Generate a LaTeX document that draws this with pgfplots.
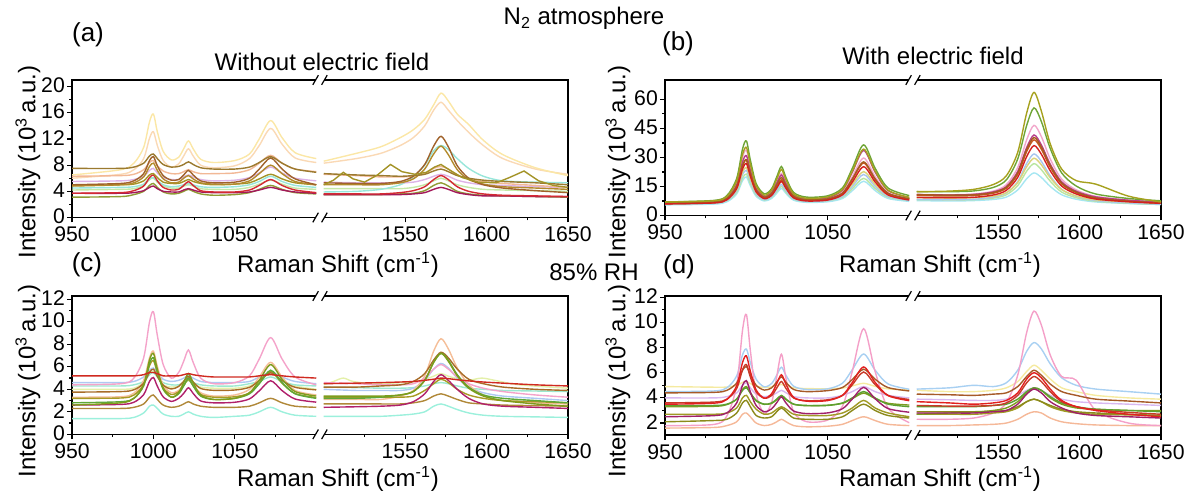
\documentclass[border=0pt]{standalone}
\usepackage{fontspec}
\setmainfont{Liberation Sans}
\usepackage{pgfplots}
\usepackage{pgfplotstable}
\pgfplotsset{compat=1.18}

% ---- colours
\definecolor{a1}{HTML}{FBE7A6}\definecolor{a2}{HTML}{FAD9B5}\definecolor{a3}{HTML}{9B7A2F}
\definecolor{a4}{HTML}{F2B896}\definecolor{a5}{HTML}{A0622B}\definecolor{a6}{HTML}{B38B2C}
\definecolor{a7}{HTML}{A39327}\definecolor{a8}{HTML}{DDB3E6}\definecolor{a9}{HTML}{C5E8A6}
\definecolor{a10}{HTML}{98E6DA}\definecolor{a11}{HTML}{D42A33}\definecolor{a12}{HTML}{A3195A}
\definecolor{a13}{HTML}{8F9C35}
\definecolor{b1}{HTML}{A6A11E}\definecolor{b2}{HTML}{6EA536}\definecolor{b3}{HTML}{B83D8A}
\definecolor{b4}{HTML}{F2A7CB}\definecolor{b5}{HTML}{A75B20}\definecolor{b6}{HTML}{D42020}
\definecolor{b7}{HTML}{C9541E}\definecolor{b8}{HTML}{A8C6F0}\definecolor{b9}{HTML}{DCD37A}
\definecolor{b10}{HTML}{B9E6A0}\definecolor{b11}{HTML}{A6E6F2}
\definecolor{c1}{HTML}{D02A20}\definecolor{c2}{HTML}{F4A3CA}\definecolor{c3}{HTML}{AEC9F2}
\definecolor{c4}{HTML}{9CE8CF}\definecolor{c5}{HTML}{A86C28}\definecolor{c6}{HTML}{7E9C1C}
\definecolor{c7}{HTML}{B0206A}\definecolor{c8}{HTML}{A89A24}\definecolor{c9}{HTML}{B08838}
\definecolor{c10}{HTML}{9CF0DC}\definecolor{c11}{HTML}{F5BE98}\definecolor{c12}{HTML}{5EA838}
\definecolor{c13}{HTML}{E4F0AA}
\definecolor{d1}{HTML}{F5EAA0}\definecolor{d2}{HTML}{A65A28}\definecolor{d3}{HTML}{E22020}
\definecolor{d4}{HTML}{C83A28}\definecolor{d5}{HTML}{A8D0F2}\definecolor{d6}{HTML}{F4A0C8}
\definecolor{d7}{HTML}{A0206A}\definecolor{d8}{HTML}{7C9C20}\definecolor{d9}{HTML}{5CA030}
\definecolor{d10}{HTML}{A09A24}\definecolor{d11}{HTML}{8C8A1C}\definecolor{d12}{HTML}{F5B898}
\definecolor{d13}{HTML}{D8B8F0}

% ---- data (one row per spectrum; transposed below)
\pgfplotstableread{
name 950 980 988 994 997.6 1000 1002.4 1006 1011 1015.5 1018.6 1021.5 1024.4 1029 1037 1050 1059 1065 1072 1079 1087 1100
s1 6.5 7.3 8.3 10.7 14.6 15.8 13.1 10.1 8.8 9.2 10.5 11.7 10.5 8.9 8.4 8.7 9.7 12.0 14.8 12.2 9.9 9.0
s2 6.0 6.6 7.3 9.0 12.1 13.1 11.0 8.7 7.7 8.2 9.4 10.5 9.4 8.0 7.6 7.9 9.0 11.0 13.6 11.2 9.1 8.4
s3 7.5 7.5 7.7 8.3 9.4 9.7 9.0 8.1 7.7 7.8 8.1 8.5 8.1 7.6 7.4 7.4 7.7 8.4 9.3 8.3 7.4 6.9
s4 6.3 6.4 6.6 7.3 8.4 8.7 7.9 7.1 6.7 6.7 7.0 7.3 7.0 6.7 6.7 6.8 7.3 8.3 9.5 8.3 7.4 7.0
s5 5.0 5.2 5.6 6.7 8.7 9.3 7.9 6.4 5.7 5.8 6.5 7.2 6.5 5.6 5.3 5.4 6.0 7.4 9.1 7.4 5.9 5.0
s6 4.8 5.0 5.3 6.2 7.8 8.3 7.2 5.9 5.3 5.4 6.0 6.4 5.9 5.3 5.1 5.1 5.6 6.7 8.0 6.7 5.5 5.0
s7 4.9 5.0 5.1 5.6 6.5 6.7 6.1 5.4 5.2 5.2 5.5 5.8 5.5 5.2 5.0 5.1 5.3 5.9 6.6 5.9 5.3 5.0
s8 5.5 5.6 5.8 6.3 7.2 7.5 6.8 6.1 5.8 5.8 6.2 6.5 6.2 5.8 5.6 5.7 6.1 6.8 7.7 6.8 6.0 5.6
s9 4.2 4.3 4.4 4.9 5.8 6.0 5.4 4.8 4.5 4.5 4.8 5.0 4.8 4.4 4.3 4.3 4.6 5.1 5.7 5.1 4.5 4.3
s10 4.5 4.6 4.7 5.1 5.9 6.1 5.6 5.0 4.7 4.8 5.0 5.2 5.0 4.7 4.6 4.7 5.0 5.5 6.3 5.5 4.9 4.6
s11 3.7 3.8 4.1 4.8 6.1 6.5 5.6 4.6 4.2 4.3 4.9 5.5 4.9 4.1 3.9 3.9 4.2 4.9 5.8 4.9 4.2 3.8
s12 3.7 3.7 3.8 4.1 4.6 4.8 4.4 4.0 3.9 3.9 4.2 4.4 4.2 3.9 3.8 3.8 3.9 4.2 4.6 4.2 3.9 3.7
s13 3.1 3.2 3.5 4.0 4.9 5.2 4.6 3.9 3.6 3.7 4.0 4.3 4.0 3.6 3.4 3.5 3.8 4.3 4.9 4.3 3.8 3.6
}\rawAL
\pgfplotstableread{
name 1500 1520 1535 1547 1555 1562 1567.5 1572 1576.5 1582 1589 1598 1610 1630 1650
s1 8.6 9.8 10.8 12.2 13.4 15.0 17.2 19.0 17.8 15.8 14.2 11.8 9.6 7.6 6.4
s2 8.3 9.0 9.8 11.0 12.2 14.0 16.4 17.6 16.4 14.8 13.0 11.0 9.0 7.4 6.6
s3 6.7 6.5 6.4 6.3 6.4 6.6 7.1 7.4 7.0 6.4 6.0 5.7 5.5 5.3 5.0
s4 6.6 6.4 6.2 6.2 6.3 6.7 7.5 7.8 7.4 6.5 5.9 5.5 5.2 4.9 4.6
s5 5.3 5.2 5.2 5.5 6.3 8.1 10.9 12.4 10.8 7.9 6.0 5.0 4.5 4.1 3.8
s6 5.0 5.0 5.0 5.3 5.9 7.4 9.7 10.9 9.6 7.3 5.8 5.1 4.7 4.5 4.3
s8 5.4 5.3 5.3 5.3 5.4 5.8 6.3 6.6 6.3 5.7 5.3 5.0 4.9 4.7 4.6
s9 4.4 4.4 4.4 4.4 4.6 5.0 5.6 6.0 5.6 5.0 4.6 4.3 4.2 4.1 4.0
s10 3.9 4.0 4.3 5.0 6.2 8.0 10.2 11.0 10.4 9.0 7.5 6.3 5.6 5.4 5.3
s11 3.6 3.6 3.6 3.8 4.1 4.7 5.8 6.4 5.8 4.7 4.0 3.6 3.4 3.3 3.2
s12 3.5 3.5 3.5 3.5 3.6 3.8 4.3 4.6 4.3 3.8 3.5 3.3 3.3 3.2 3.2
s13 3.5 3.5 3.5 3.6 3.7 4.1 4.9 5.3 4.8 4.0 3.6 3.4 3.3 3.2 3.1
}\rawAR
\pgfplotstableread{
name 950 980 988 994 997.6 1000 1002.4 1006 1011 1015.5 1018.6 1021.5 1024.4 1029 1037 1050 1059 1065 1072 1079 1087 1100
s1 7.0 7.6 9.8 17.8 31.5 35.2 26.4 15.4 10.5 13.1 18.7 23.8 18.2 11.1 8.9 9.6 13.4 22.8 34.3 23.0 13.1 9.4
s2 7.0 7.8 10.3 19.1 34.3 38.5 28.7 16.5 11.2 13.9 19.9 25.3 19.4 11.9 9.5 10.2 14.3 24.3 36.5 24.5 14.2 10.3
s3 6.5 7.1 9.1 15.9 27.7 30.9 23.3 13.9 9.8 12.0 16.7 20.9 16.3 10.4 8.6 9.2 13.1 22.3 33.6 22.5 12.9 9.3
s4 6.5 7.1 9.2 16.8 30.1 33.7 25.1 14.5 9.8 12.1 17.2 21.7 16.7 10.3 8.2 8.7 12.0 20.0 29.7 20.1 11.8 8.7
s5 6.5 7.0 8.8 15.0 25.8 28.8 21.8 13.1 9.4 11.4 15.8 19.6 15.3 9.9 8.1 8.6 11.6 18.9 27.7 19.0 11.5 8.6
s6 6.0 6.5 8.1 13.9 24.0 26.8 20.3 12.2 8.7 10.4 14.2 17.6 13.9 9.1 7.5 8.0 10.7 17.2 25.2 17.4 10.6 8.0
s7 6.0 6.6 8.4 14.6 25.5 28.5 21.4 12.8 9.0 10.8 14.8 18.4 14.5 9.4 7.9 8.4 11.4 18.5 27.1 18.6 11.3 8.6
s8 6.0 6.5 7.9 12.7 21.0 23.3 17.9 11.2 8.3 9.8 13.1 16.0 12.8 8.7 7.4 7.8 9.9 15.0 21.2 15.1 9.9 7.9
s9 6.5 7.0 8.4 13.5 22.4 24.8 19.1 12.0 9.0 10.7 14.3 17.6 14.0 9.4 8.0 8.4 10.6 16.1 22.7 16.2 10.6 8.5
s10 6.0 6.5 7.7 11.9 19.3 21.4 16.6 10.7 8.1 9.5 12.4 15.0 12.1 8.5 7.3 7.7 9.5 13.9 19.2 14.0 9.5 7.9
s11 5.5 5.9 7.1 11.1 18.0 19.9 15.4 9.9 7.5 8.8 11.5 14.0 11.3 7.9 6.8 7.1 8.8 12.8 17.7 12.9 8.8 7.3
}\rawBL
\pgfplotstableread{
name 1500 1520 1535 1547 1555 1562 1567.5 1572 1576.5 1582 1589 1598 1610 1630 1650
s1 12.3 12.6 13.5 16.0 20.5 32.6 52.9 63.6 54.0 37.0 24.0 18.0 16.2 10.0 7.0
s2 12.3 12.3 12.7 14.5 18.4 29.2 46.5 55.6 48.6 34.6 22.0 15.2 11.1 8.8 7.6
s3 10.8 10.6 10.9 12.2 14.9 22.7 35.1 41.6 36.5 26.5 17.4 12.5 9.6 7.9 6.9
s4 10.9 10.7 11.1 12.6 15.9 24.8 39.1 46.6 40.8 29.2 18.8 13.2 9.9 8.0 7.0
s5 10.8 10.5 10.7 11.9 14.6 22.1 34.1 40.3 35.4 25.7 16.8 12.1 9.1 7.4 6.4
s6 9.3 9.2 9.4 10.6 13.0 19.7 30.4 36.1 31.7 23.1 15.2 11.1 8.5 7.1 6.3
s7 10.3 10.1 10.3 11.5 14.1 21.3 33.0 39.1 34.3 24.9 16.3 11.8 8.9 7.3 6.4
s8 8.3 8.2 8.4 9.5 11.6 17.5 26.9 31.8 28.0 20.4 13.5 9.9 7.7 6.5 5.8
s9 9.2 9.0 9.2 10.0 11.8 17.0 25.2 29.6 26.2 19.5 13.4 10.1 8.1 7.0 6.3
s10 8.2 8.1 8.2 9.0 10.7 15.4 22.9 26.8 23.7 17.7 12.1 9.2 7.4 6.3 5.7
s11 7.7 7.5 7.7 8.3 9.5 13.2 19.0 22.0 19.7 15.0 10.7 8.4 7.0 6.2 5.7
}\rawBR
\pgfplotstableread{
name 950 980 988 994 997.6 1000 1002.4 1006 1011 1015.5 1018.6 1021.5 1024.4 1029 1037 1050 1059 1065 1072 1079 1087 1100
s1 5.2 5.2 5.2 5.3 5.5 5.5 5.4 5.2 5.2 5.2 5.3 5.4 5.3 5.2 5.1 5.1 5.1 5.2 5.3 5.2 5.1 5.0
s2 4.4 4.5 5.0 6.8 10.0 10.9 8.8 6.2 5.0 5.5 6.5 7.5 6.4 5.0 4.5 4.6 5.2 6.7 8.6 6.7 5.1 4.4
s3 4.6 4.6 4.7 5.1 5.7 5.9 5.5 4.9 4.7 4.8 5.0 5.2 5.0 4.7 4.6 4.6 4.7 5.1 5.5 5.1 4.7 4.5
s4 4.3 4.3 4.4 4.7 5.3 5.5 5.1 4.6 4.4 4.4 4.6 4.8 4.6 4.4 4.3 4.3 4.5 4.7 5.1 4.7 4.4 4.3
s5 3.75 3.8 3.96 4.53 5.52 5.79 5.15 4.37 4.03 4.26 4.72 5.15 4.66 4.08 3.91 3.94 4.18 4.77 5.47 4.78 4.18 3.95
s6 2.6 2.8 3.2 4.4 6.6 7.2 5.8 4.1 3.3 3.7 4.6 5.4 4.6 3.5 3.1 3.2 3.7 4.8 6.2 4.9 3.8 3.4
s7 2.6 2.66 2.85 3.53 4.71 5.05 4.28 3.33 2.93 3.2 3.64 4.14 3.64 2.97 2.8 2.85 3.15 3.87 4.76 3.89 3.14 2.86
s8 3.2 3.23 3.49 4.44 6.1 6.56 5.48 4.13 3.54 3.78 4.34 4.86 4.31 3.55 3.3 3.34 3.68 4.54 5.6 4.54 3.63 3.27
s9 2.3 2.3 2.4 2.7 3.3 3.5 3.1 2.6 2.4 2.5 2.7 2.9 2.7 2.5 2.4 2.4 2.5 2.8 3.2 2.8 2.5 2.4
s10 1.4 1.4 1.5 1.9 2.5 2.6 2.3 1.8 1.6 1.6 1.8 2.0 1.8 1.6 1.5 1.6 1.7 2.0 2.4 2.0 1.7 1.6
s11 3.3 3.34 3.66 4.8 6.8 7.4 6.05 4.4 3.7 3.9 4.5 5.0 4.4 3.7 3.4 3.5 4.0 5.1 6.4 5.1 3.9 3.5
s12 2.8 2.9 3.2 4.3 6.3 6.8 5.6 4.0 3.3 3.6 4.3 5.0 4.3 3.4 3.1 3.2 3.6 4.5 5.7 4.6 3.6 3.2
s13 4.0 4.0 4.1 4.6 5.4 5.6 5.1 4.4 4.2 4.3 4.5 4.8 4.5 4.2 4.1 4.1 4.3 4.8 5.4 4.8 4.3 4.0
}\rawCL
\pgfplotstableread{
name 1500 1520 1535 1547 1555 1562 1567.5 1572 1576.5 1582 1589 1598 1610 1630 1650
s1 4.5 4.55 4.6 4.65 4.7 4.8 4.9 5.0 4.95 4.85 4.75 4.65 4.55 4.4 4.3
s2 4.6 4.5 4.4 4.4 4.5 5.0 5.8 6.2 5.8 5.1 4.5 4.1 3.8 3.5 3.3
s3 4.0 3.9 3.9 3.9 4.1 4.8 5.8 6.3 5.9 5.0 4.2 3.7 3.4 3.2 3.0
s4 4.2 4.15 4.1 4.1 4.15 4.3 4.5 4.6 4.5 4.3 4.1 4.0 3.9 3.85 3.8
s5 4.2 4.2 4.3 4.4 4.7 5.4 6.6 7.3 6.8 5.8 4.9 4.5 4.2 4.0 3.9
s6 3.4 3.4 3.4 3.5 3.8 4.8 6.4 7.2 6.5 5.2 4.1 3.4 3.0 2.7 2.5
s7 2.4 2.45 2.5 2.6 2.9 3.6 4.7 5.3 4.8 4.0 3.2 2.7 2.5 2.4 2.3
s8 3.3 3.3 3.3 3.3 3.4 3.9 4.5 4.9 4.6 4.0 3.5 3.2 3.0 2.9 2.8
s9 2.7 2.7 2.7 2.7 2.8 3.0 3.4 3.6 3.4 3.1 2.8 2.7 2.6 2.55 2.5
s10 1.6 1.6 1.6 1.7 1.8 2.0 2.5 2.7 2.5 2.2 1.9 1.7 1.6 1.55 1.5
s11 3.1 3.1 3.1 3.4 3.9 5.2 7.4 8.5 7.6 5.9 4.4 3.5 3.0 2.8 2.7
s12 3.2 3.2 3.3 3.5 3.8 4.8 6.4 7.2 6.6 5.3 4.2 3.5 3.2 3.0 2.8
}\rawCR
\pgfplotstableread{
name 950 980 988 994 997.6 1000 1002.4 1006 1011 1015.5 1018.6 1021.5 1024.4 1029 1037 1050 1059 1065 1072 1079 1087 1100
s1 4.9 4.85 4.86 5.0 5.23 5.29 5.14 4.93 4.83 4.87 4.97 5.07 4.95 4.8 4.74 4.73 4.78 4.95 5.16 4.92 4.72 4.62
s2 4.4 4.44 4.6 5.18 6.2 6.49 5.85 5.0 4.62 4.8 5.26 5.67 5.22 4.67 4.5 4.58 4.83 5.46 6.28 5.49 4.82 4.55
s3 3.5 3.58 3.88 4.96 6.81 7.34 6.12 4.63 3.98 4.34 5.13 5.84 5.05 4.04 3.74 3.79 4.21 5.22 6.46 5.24 4.18 3.78
s4 3.6 3.67 3.9 4.74 6.23 6.65 5.66 4.48 3.97 4.19 4.78 5.3 4.73 3.99 3.78 3.85 4.2 5.04 6.06 5.06 4.2 3.87
s5 4.5 4.55 4.8 5.74 7.42 7.88 6.81 5.48 4.88 5.15 5.8 6.44 5.77 4.93 4.67 4.72 5.17 6.24 7.49 6.21 5.11 4.69
s6 1.8 1.89 2.57 5.0 9.37 10.63 7.79 4.28 2.76 3.64 5.67 7.47 5.47 2.9 2.11 2.24 3.34 6.11 9.5 6.11 3.19 2.03
s7 2.5 2.59 2.81 3.6 4.99 5.37 4.48 3.39 2.9 3.13 3.62 4.08 3.58 2.96 2.75 2.81 3.14 3.91 4.84 3.94 3.15 2.86
s8 3.3 3.33 3.47 3.9 4.67 4.9 4.37 3.76 3.49 3.56 3.86 4.17 3.86 3.5 3.38 3.42 3.57 3.94 4.38 3.95 3.57 3.43
s9 3.4 3.4 3.5 3.9 4.6 4.8 4.4 3.8 3.5 3.6 3.9 4.2 3.9 3.5 3.4 3.4 3.6 4.0 4.5 4.0 3.5 3.3
s10 2.7 2.7 2.8 3.2 4.0 4.2 3.7 3.1 2.7 2.8 3.1 3.3 3.1 2.7 2.6 2.6 2.8 3.2 3.8 3.2 2.8 2.5
s11 2.1 2.2 2.3 2.8 3.6 3.8 3.3 2.6 2.4 2.5 2.9 3.2 2.9 2.4 2.3 2.3 2.5 3.0 3.5 3.0 2.6 2.4
s12 1.6 1.65 1.8 2.1 2.7 2.8 2.5 2.0 1.8 1.9 2.1 2.3 2.1 1.8 1.7 1.75 1.9 2.2 2.5 2.2 1.9 1.8
s13 4.0 4.0 4.1 4.4 5.0 5.2 4.8 4.3 4.1 4.2 4.4 4.6 4.4 4.1 4.0 4.0 4.2 4.5 4.9 4.5 4.2 4.0
}\rawDL
\pgfplotstableread{
name 1500 1520 1535 1547 1555 1562 1567.5 1572 1576.5 1582 1589 1598 1610 1630 1650
s1 4.6 4.5 4.5 4.6 4.8 5.3 6.1 6.6 6.2 5.5 4.8 4.5 4.2 4.0 3.9
s2 4.3 4.25 4.2 4.3 4.4 4.9 5.7 6.2 5.8 5.1 4.5 4.2 3.9 3.75 3.6
s3 3.7 3.6 3.5 3.6 3.8 4.4 5.5 6.0 5.6 4.7 3.8 3.3 3.0 2.7 2.5
s4 3.4 3.35 3.35 3.4 3.6 4.2 5.2 5.7 5.3 4.5 3.7 3.3 3.05 2.85 2.7
s5 4.7 4.8 5.0 4.9 5.2 6.2 7.7 8.4 7.9 6.7 5.6 5.0 4.7 4.5 4.3
s6 2.3 2.3 2.4 2.8 3.6 5.8 9.2 10.9 9.8 7.4 5.7 5.4 3.0 2.0 1.8
s7 2.8 2.8 2.8 2.9 3.0 3.5 4.3 4.7 4.4 3.7 3.2 2.8 2.6 2.5 2.4
s8 2.7 2.8 2.85 3.0 3.2 3.7 4.4 4.8 4.6 4.0 3.5 3.2 3.1 3.0 3.0
s9 3.3 3.3 3.3 3.4 3.5 3.9 4.5 4.8 4.6 4.1 3.6 3.3 3.1 3.0 2.9
s10 2.7 2.7 2.7 2.8 2.9 3.2 3.7 3.9 3.7 3.3 3.0 2.8 2.7 2.65 2.6
s11 2.9 2.9 2.9 2.95 3.0 3.3 3.7 3.9 3.7 3.4 3.1 2.9 2.8 2.7 2.6
s12 1.8 1.8 1.85 1.9 2.0 2.3 2.7 2.9 2.8 2.4 2.1 1.95 1.85 1.8 1.8
s13 3.9 3.85 3.8 3.8 3.9 4.2 4.6 4.8 4.6 4.2 3.9 3.7 3.6 3.5 3.4
}\rawDR
\pgfplotstabletranspose[colnames from=name,input colnames to=x]\tAL{\rawAL}
\pgfplotstabletranspose[colnames from=name,input colnames to=x]\tAR{\rawAR}
\pgfplotstabletranspose[colnames from=name,input colnames to=x]\tBL{\rawBL}
\pgfplotstabletranspose[colnames from=name,input colnames to=x]\tBR{\rawBR}
\pgfplotstabletranspose[colnames from=name,input colnames to=x]\tCL{\rawCL}
\pgfplotstabletranspose[colnames from=name,input colnames to=x]\tCR{\rawCR}
\pgfplotstabletranspose[colnames from=name,input colnames to=x]\tDL{\rawDL}
\pgfplotstabletranspose[colnames from=name,input colnames to=x]\tDR{\rawDR}

% left segment as is; right segment (1500-1650) shifted by -395.4 on a broken axis
\newcommand\PL[3]{\addplot[#1] table[x=x,y=#2]{#3};}
\newcommand\PR[3]{\addplot[#1] table[x expr=\thisrow{x}-395.4,y=#2]{#3};}
\newcommand\brkmark[1]{%
  \fill[white] ([xshift=-1.9pt,yshift=-1.3pt]#1) rectangle ([xshift=1.9pt,yshift=1.3pt]#1);
  \draw[black,line width=0.6pt] ([xshift=-3.6pt,yshift=-2.4pt]#1) -- ([xshift=-0.8pt,yshift=2.4pt]#1);
  \draw[black,line width=0.6pt] ([xshift=0.8pt,yshift=-2.4pt]#1) -- ([xshift=3.6pt,yshift=2.4pt]#1);}

\pgfplotsset{
  brk/.style={
    scale only axis, width=248pt, anchor=south west,
    xmin=950, xmax=1254.6,
    xtick={950,1000,1050,1154.6,1204.6,1254.6},
    xticklabels={950,1000,1050,1550,1600,1650},
    minor xtick={975,1025,1075,1129.6,1179.6,1229.6},
    minor y tick num=1,
    tick align=outside, tick pos=left,
    major tick length=2.4pt, minor tick length=1.4pt,
    every tick/.style={black, line width=0.6pt},
    axis line style={line width=0.6pt},
    tick label style={font=\fontsize{10.6}{12}\selectfont},
    xticklabel style={inner sep=1pt, yshift=-1.2pt},
    yticklabel style={inner sep=1pt, yshift=0.6pt},
    /pgf/number format/assume math mode=true,
    every axis plot/.append style={line width=0.7pt, smooth},
    after end axis/.code={%
      \coordinate (bkb) at (rel axis cs:0.5,0);
      \coordinate (bkt) at (rel axis cs:0.5,1);
      \brkmark{bkb}\brkmark{bkt}},
  },
}

\begin{document}
\begin{tikzpicture}
\useasboundingbox (0,0) rectangle (598pt,250pt);

% ---------------- (a)
\begin{axis}[brk, at={(36pt,141.25pt)}, height=68.75pt,
  ymin=0, ymax=21, ytick={0,4,...,20}]
\PL{a2}{s2}{\tAL}\PL{a1}{s1}{\tAL}\PL{a9}{s9}{\tAL}\PL{a10}{s10}{\tAL}
\PL{a8}{s8}{\tAL}\PL{a4}{s4}{\tAL}\PL{a13}{s13}{\tAL}\PL{a12}{s12}{\tAL}
\PL{a11}{s11}{\tAL}\PL{a7}{s7}{\tAL}\PL{a6}{s6}{\tAL}\PL{a5}{s5}{\tAL}\PL{a3}{s3}{\tAL}
\PR{a2}{s2}{\tAR}\PR{a1}{s1}{\tAR}\PR{a9}{s9}{\tAR}\PR{a10}{s10}{\tAR}
\PR{a8}{s8}{\tAR}\PR{a4}{s4}{\tAR}\PR{a13}{s13}{\tAR}\PR{a12}{s12}{\tAR}
\PR{a11}{s11}{\tAR}\PR{a6}{s6}{\tAR}\PR{a5}{s5}{\tAR}\PR{a3}{s3}{\tAR}
\addplot[a7, sharp plot] table[x expr=\thisrow{x}-395.4, y=y] {
x y
1500 5.0
1506 5.7
1512 6.9
1518 5.9
1525 5.4
1533 6.5
1541 8.1
1548 7.0
1556 6.6
1563 6.9
1568 7.7
1572 8.1
1577 7.3
1585 6.1
1595 5.4
1606 5.3
1614 6.1
1623 7.1
1632 5.6
1641 4.9
1650 4.6
};
\end{axis}

% ---------------- (b)
\begin{axis}[brk, at={(332.5pt,142.25pt)}, height=67.75pt,
  ymin=0, ymax=70, ytick={0,15,...,60}]
\PL{b11}{s11}{\tBL}\PL{b10}{s10}{\tBL}\PL{b8}{s8}{\tBL}\PL{b9}{s9}{\tBL}
\PL{b4}{s4}{\tBL}\PL{b3}{s3}{\tBL}\PL{b7}{s7}{\tBL}\PL{b5}{s5}{\tBL}
\PL{b6}{s6}{\tBL}\PL{b2}{s2}{\tBL}\PL{b1}{s1}{\tBL}
\PR{b11}{s11}{\tBR}\PR{b10}{s10}{\tBR}\PR{b8}{s8}{\tBR}\PR{b9}{s9}{\tBR}
\PR{b4}{s4}{\tBR}\PR{b3}{s3}{\tBR}\PR{b7}{s7}{\tBR}\PR{b5}{s5}{\tBR}
\PR{b6}{s6}{\tBR}\PR{b2}{s2}{\tBR}\PR{b1}{s1}{\tBR}
\end{axis}

% ---------------- (c)
\begin{axis}[brk, at={(36pt,32.85pt)}, height=69.15pt,
  ymin=0, ymax=12.3, ytick={0,2,...,12}]
\PL{c13}{s13}{\tCL}\PL{c10}{s10}{\tCL}\PL{c4}{s4}{\tCL}\PL{c3}{s3}{\tCL}
\PL{c11}{s11}{\tCL}\PL{c2}{s2}{\tCL}\PL{c9}{s9}{\tCL}\PL{c8}{s8}{\tCL}
\PL{c7}{s7}{\tCL}\PL{c5}{s5}{\tCL}\PL{c12}{s12}{\tCL}\PL{c6}{s6}{\tCL}\PL{c1}{s1}{\tCL}
\addplot[c13] table[x expr=\thisrow{x}-395.4, y=y] {
x y
1500 4.4
1506 4.7
1512 5.0
1518 4.7
1530 4.5
1548 4.6
1560 4.8
1568 5.2
1572 5.4
1578 5.1
1588 4.8
1597 5.0
1605 4.8
1620 4.4
1650 4.1
};
\PR{c10}{s10}{\tCR}\PR{c4}{s4}{\tCR}\PR{c3}{s3}{\tCR}
\PR{c11}{s11}{\tCR}\PR{c2}{s2}{\tCR}\PR{c9}{s9}{\tCR}\PR{c8}{s8}{\tCR}
\PR{c7}{s7}{\tCR}\PR{c5}{s5}{\tCR}\PR{c12}{s12}{\tCR}\PR{c6}{s6}{\tCR}\PR{c1}{s1}{\tCR}
\end{axis}

% ---------------- (d)
\begin{axis}[brk, at={(332.5pt,32.5pt)}, height=69.5pt,
  ymin=1.05, ymax=12.1, ytick={2,4,...,12}]
\PL{d12}{s12}{\tDL}\PL{d13}{s13}{\tDL}\PL{d1}{s1}{\tDL}\PL{d5}{s5}{\tDL}
\PL{d6}{s6}{\tDL}\PL{d10}{s10}{\tDL}\PL{d11}{s11}{\tDL}\PL{d8}{s8}{\tDL}
\PL{d9}{s9}{\tDL}\PL{d7}{s7}{\tDL}\PL{d2}{s2}{\tDL}\PL{d4}{s4}{\tDL}\PL{d3}{s3}{\tDL}
\PR{d12}{s12}{\tDR}\PR{d13}{s13}{\tDR}\PR{d1}{s1}{\tDR}\PR{d5}{s5}{\tDR}
\PR{d6}{s6}{\tDR}\PR{d10}{s10}{\tDR}\PR{d11}{s11}{\tDR}\PR{d8}{s8}{\tDR}
\PR{d9}{s9}{\tDR}\PR{d7}{s7}{\tDR}\PR{d2}{s2}{\tDR}\PR{d4}{s4}{\tDR}\PR{d3}{s3}{\tDR}
\end{axis}

% ---------------- texts
\node[font=\fontsize{12}{14}\selectfont] at (292pt,240.8pt) {N\textsubscript{2} atmosphere};
\node[font=\fontsize{13}{15}\selectfont] at (44pt,232.5pt) {(a)};
\node[font=\fontsize{13}{15}\selectfont] at (339pt,228pt) {(b)};
\node[font=\fontsize{13}{15}\selectfont] at (43.5pt,117.5pt) {(c)};
\node[font=\fontsize{13}{15}\selectfont] at (339.5pt,116.5pt) {(d)};
\node[font=\fontsize{12}{14}\selectfont] at (161pt,219pt) {Without electric field};
\node[font=\fontsize{12}{14}\selectfont] at (466.5pt,222pt) {With electric field};
\node[font=\fontsize{12}{14}\selectfont] at (297pt,114pt) {85\% RH};
\foreach \xx/\yy in {169/117.5, 470/117.5, 169/10.5, 470/10.5}
  \node[font=\fontsize{12}{14}\selectfont] at (\xx pt,\yy pt) {Raman Shift (cm\textsuperscript{-1})};
\foreach \xx/\yy in {14/169, 309/169, 14/59.5, 309/59.5}
  \node[font=\fontsize{12}{14}\selectfont, rotate=90] at (\xx pt,\yy pt) {Intensity (10\textsuperscript{3}\,a.u.)};
\end{tikzpicture}
\end{document}
